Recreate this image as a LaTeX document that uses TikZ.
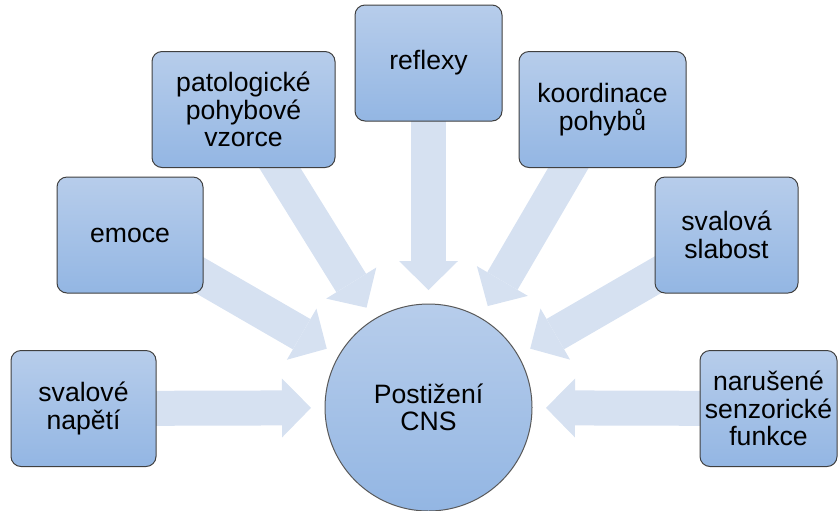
\documentclass[tikz,border=0pt]{standalone}
\usepackage{fontspec}
\setmainfont{Liberation Sans}
\usetikzlibrary{arrows.meta,backgrounds}
\definecolor{boxtop}{RGB}{183,205,235}
\definecolor{boxbot}{RGB}{147,182,227}
\definecolor{feedfill}{RGB}{214,225,241}
\begin{document}
\begin{tikzpicture}[
    x=0.5pt, y=-0.5pt,
    box/.style={rectangle, rounded corners=5pt, draw=black!75, line width=0.5pt,
        top color=boxtop, bottom color=boxbot, align=center, inner sep=2pt,
        font=\fontsize{13.3pt}{13.8pt}\selectfont, minimum height=58pt},
    hub/.style={circle, draw=black!65, line width=0.5pt,
        top color=boxtop, bottom color=boxbot, align=center,
        font=\fontsize{13.3pt}{13.8pt}\selectfont, minimum size=103.5pt},
    feed/.style={draw=feedfill, line width=17.5pt,
        -{Triangle[width=29.5pt, length=14.5pt, line width=0pt]},
        shorten >=6.75pt}
]
    \useasboundingbox (0,0) rectangle (839,510);
    \node[hub] (cns) at (428.5,407.5) {Postižení\\CNS};

    \node[box, minimum width=72.5pt] (napeti) at (83.5,408.5) {svalové\\napětí};
    \node[box, minimum width=73pt] (emoce) at (130,235) {emoce};
    \node[box, minimum width=91.5pt] (patol) at (243.5,109.5) {patologické\\pohybové\\vzorce};
    \node[box, minimum width=73.5pt] (reflexy) at (428.5,63) {reflexy};
    \node[box, minimum width=83.5pt] (koord) at (602.5,109.5) {koordinace\\pohybů};
    \node[box, minimum width=71.5pt] (slabost) at (726.5,235) {svalová\\slabost};
    \node[box, minimum width=68.5pt] (senzor) at (768.5,408.5) {narušené\\senzorické\\funkce};

    % Add converging arrows
    \begin{scope}[on background layer]
        \foreach \b in {napeti,emoce,patol,reflexy,koord,slabost,senzor}
            \draw[feed] (\b.center) -- (cns);
    \end{scope}
\end{tikzpicture}
\end{document}
